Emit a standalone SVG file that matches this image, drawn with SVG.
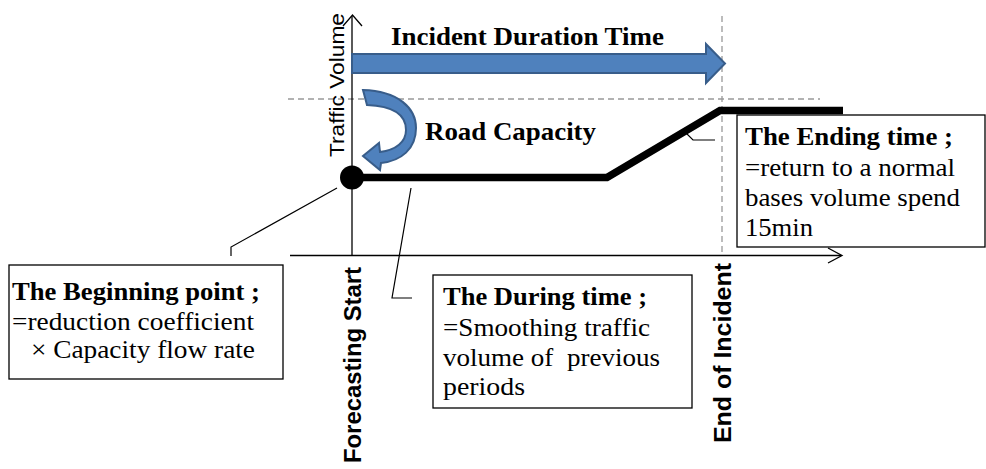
<svg xmlns="http://www.w3.org/2000/svg" width="986" height="469" viewBox="0 0 986 469">
<style>
.ax{stroke:#000;stroke-width:1.3;fill:none}
.dash{stroke:#999;stroke-width:1.3;stroke-dasharray:6 4;fill:none}
.thin{stroke:#000;stroke-width:1.2;fill:none}
.blue{fill:#4F81BD;stroke:#385D8A;stroke-width:2;stroke-linejoin:miter}
.box{fill:#fff;stroke:#000;stroke-width:1.3}
.serif{font-family:"Liberation Serif","Times New Roman",serif;font-size:26px;fill:#000;white-space:pre}
.b{font-weight:bold}
.sans{font-family:"Liberation Sans",Arial,sans-serif;fill:#000}
</style>
<rect width="986" height="469" fill="#fff"/>
<g id="axes">
<line class="dash" x1="722" y1="16" x2="722" y2="255"/>
<line class="dash" x1="288" y1="99" x2="820" y2="99"/>
<line class="ax" x1="352" y1="256" x2="352" y2="16"/>
<polyline class="ax" points="343,26 352.5,15 362,26"/>
<line class="ax" x1="290" y1="255.5" x2="841" y2="255.5"/>
<polyline class="ax" points="828,248 842,255.5 828,263"/>
<text class="sans" font-size="20" transform="translate(344,157) rotate(-90)" textLength="144" lengthAdjust="spacingAndGlyphs">Traffic Volume</text>
<text class="sans b" font-size="23" transform="translate(361,463) rotate(-90)" textLength="196" lengthAdjust="spacingAndGlyphs">Forecasting Start</text>
<text class="sans b" font-size="23" transform="translate(731,443) rotate(-90)" textLength="180" lengthAdjust="spacingAndGlyphs">End of Incident</text>
</g>
<g id="duration-arrow">
<path class="blue" d="M352,54 L706,54 L706,44 L725,63.5 L706,83 L706,73 L352,73 Z"/>
<text class="serif b" x="391" y="45" textLength="273" lengthAdjust="spacingAndGlyphs">Incident Duration Time</text>
</g>
<g id="capacity-arrow">
<path class="blue" d="M363,90 C398,91 416,108 416,128 C416,149 401,161 381,163 L380,170 L363,156 L379,143 L380,152 C396,150 406,142 406,130 C406,115 393,106 367,105 Z"/>
<text class="serif b" x="425" y="140" textLength="171" lengthAdjust="spacingAndGlyphs">Road Capacity</text>
</g>
<g id="connectors">
<polyline points="352,177.5 607,177.5 720,110.5 843,110.5" fill="none" stroke="#000" stroke-width="7.5" stroke-linejoin="miter"/>
<circle cx="352" cy="177.5" r="12" fill="#000"/>
<polyline class="thin" points="231,256 231,247 337,188"/>
<polyline class="thin" points="412,298 392,298 411,188"/>
<polyline class="thin" points="683,130 693,140 715,140"/>
</g>
<g id="beginning-point">
<rect class="box" x="9" y="265" width="274" height="114"/>
<text class="serif b" x="12" y="300" textLength="248" lengthAdjust="spacingAndGlyphs">The Beginning point ;</text>
<text class="serif" x="12" y="330" textLength="242" lengthAdjust="spacingAndGlyphs">=reduction coefficient</text>
<text class="serif" x="31" y="358" textLength="224" lengthAdjust="spacingAndGlyphs">× Capacity flow rate</text>
</g>
<g id="during-time">
<rect class="box" x="433" y="275" width="259" height="133"/>
<text class="serif b" x="443" y="305" textLength="204" lengthAdjust="spacingAndGlyphs">The During time ;</text>
<text class="serif" x="443" y="336" textLength="207" lengthAdjust="spacingAndGlyphs">=Smoothing traffic</text>
<text class="serif" x="443" y="366" textLength="217" lengthAdjust="spacingAndGlyphs" xml:space="preserve">volume of  previous</text>
<text class="serif" x="443" y="395" textLength="82" lengthAdjust="spacingAndGlyphs">periods</text>
</g>
<g id="ending-time">
<rect class="box" x="737" y="115" width="248" height="132"/>
<text class="serif b" x="745" y="145" textLength="208" lengthAdjust="spacingAndGlyphs">The Ending time ;</text>
<text class="serif" x="745" y="176" textLength="210" lengthAdjust="spacingAndGlyphs">=return to a normal</text>
<text class="serif" x="745" y="206" textLength="215" lengthAdjust="spacingAndGlyphs">bases volume spend</text>
<text class="serif" x="745" y="236" textLength="68" lengthAdjust="spacingAndGlyphs">15min</text>
</g>
</svg>
